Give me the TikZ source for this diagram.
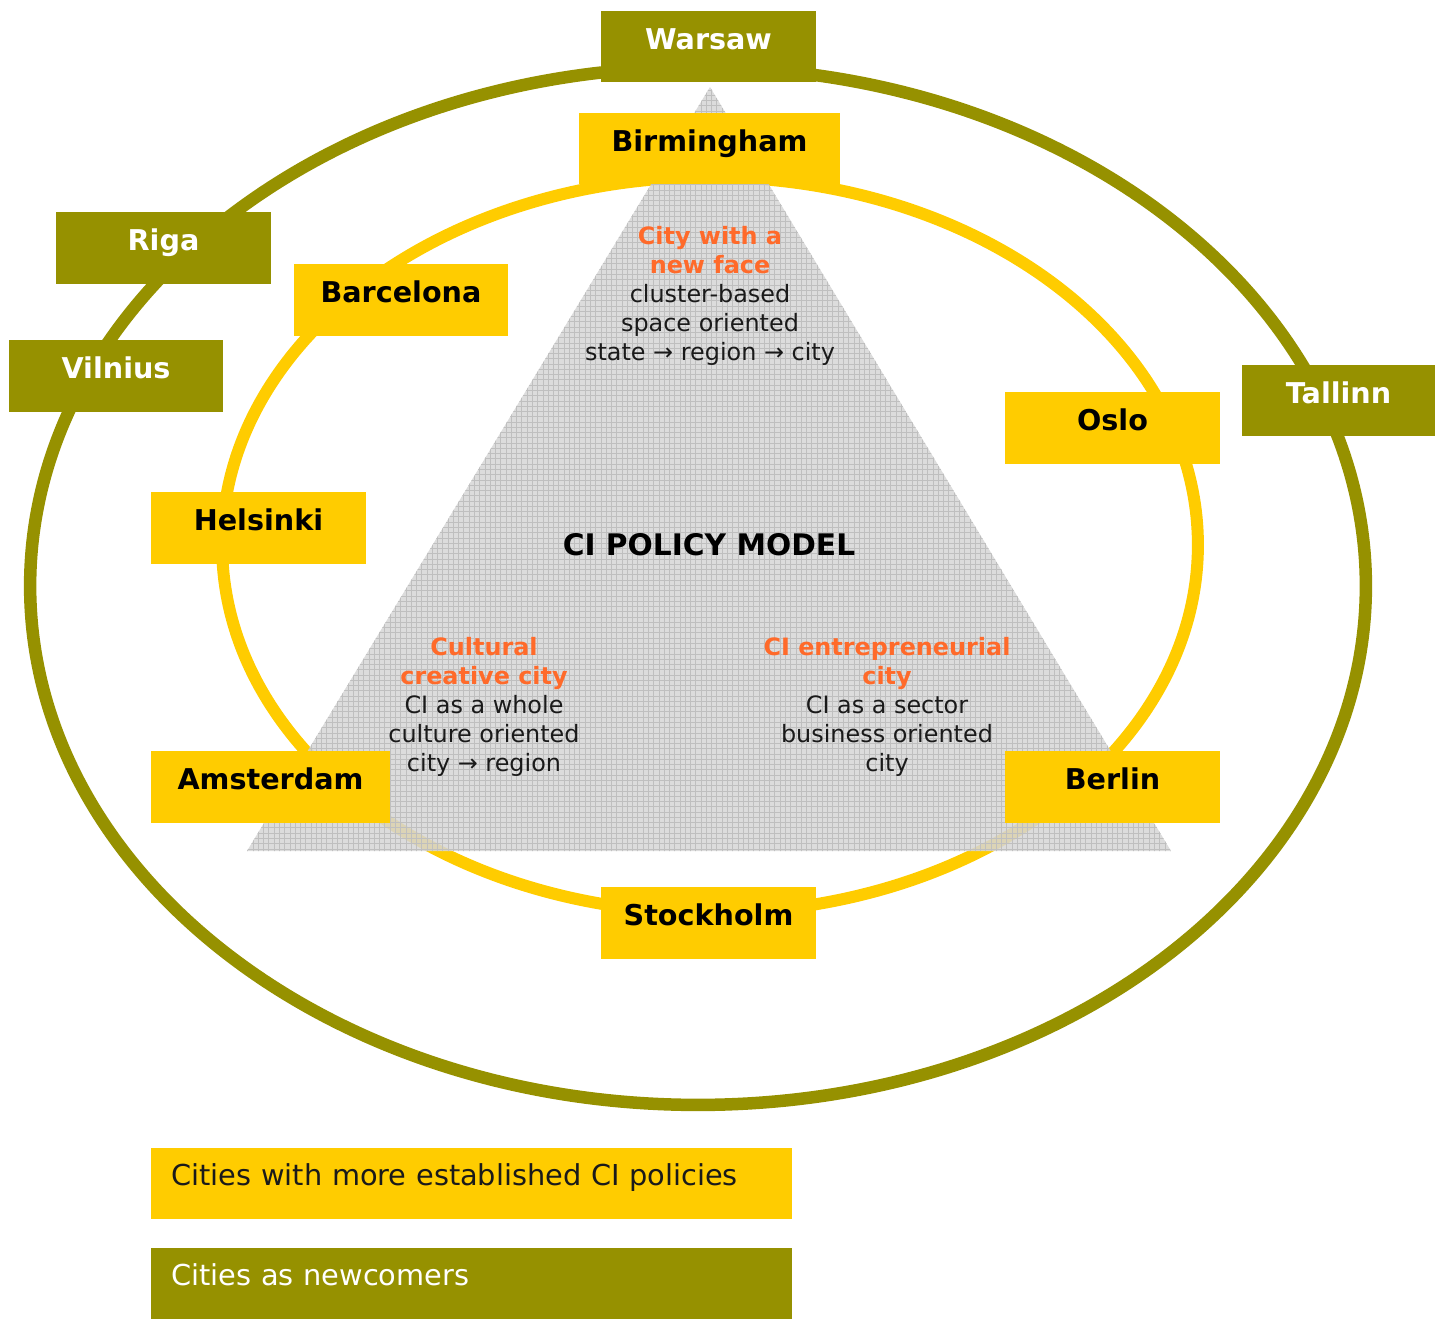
\documentclass[tikz,border=0pt]{standalone}
\usepackage{fontspec}
\setmainfont{DejaVu Sans}
\usetikzlibrary{patterns}
\definecolor{olivec}{HTML}{969100}
\definecolor{yellowc}{HTML}{FFCC00}
\definecolor{orangec}{HTML}{FF6A2A}
\definecolor{trigray}{HTML}{D6D6D6}
\definecolor{txtc}{HTML}{1A1A1A}
\tikzset{
  box/.style={rectangle, inner sep=0pt, minimum width=4.3cm, minimum height=1.44cm,
    font=\bfseries\fontsize{16.3pt}{19pt}\selectfont, text height=0.76em, text depth=0.45em},
  obox/.style={box, fill=olivec, text=white},
  ybox/.style={box, fill=yellowc, text=black},
  inner/.style={align=center, inner sep=0pt, text=txtc, font=\fontsize{13.6pt}{16.4pt}\selectfont},
  legend/.style={rectangle, inner sep=0pt, minimum width=12.82cm, minimum height=1.42cm,
    text width=12.0cm, align=left, font=\fontsize{16.4pt}{19pt}\selectfont, text height=0.76em, text depth=0.45em},
}
\newcommand{\hl}[1]{\textcolor{orangec}{\bfseries #1}}
\begin{document}
\begin{tikzpicture}[x=0.02cm,y=-0.02cm]
\useasboundingbox (0,0) rectangle (1435,1318);
% rings
\draw[olivec, line width=0.25cm] (698,586) ellipse [x radius=13.36cm, y radius=10.38cm];
\draw[yellowc, line width=0.24cm] (710,545) ellipse [x radius=9.76cm, y radius=7.36cm];
% triangle
\fill[trigray, fill opacity=0.85] (710,87) -- (1171,851) -- (247,851) -- cycle;
\fill[pattern=grid, pattern color=gray!50, fill opacity=0.22] (710,87) -- (1171,851) -- (247,851) -- cycle;
% city boxes
\node[obox] (warsaw) at (708.5,46.5) {Warsaw};
\node[ybox, minimum width=5.22cm] (birmingham) at (709.5,148.5) {Birmingham};
\node[obox] (riga) at (163.5,248) {Riga};
\node[ybox] (barcelona) at (401,300) {Barcelona};
\node[obox] (vilnius) at (116,376) {Vilnius};
\node[obox, minimum width=3.86cm] (tallinn) at (1338.5,400.5) {Tallinn};
\node[ybox] (oslo) at (1112.5,428) {Oslo};
\node[ybox] (helsinki) at (258.5,528) {Helsinki};
\node[ybox, minimum width=4.78cm] (amsterdam) at (270.5,787) {Amsterdam};
\node[ybox] (berlin) at (1112.5,787) {Berlin};
\node[ybox] (stockholm) at (708.5,923) {Stockholm};
% texts in triangle
\node[inner] (top) at (710,296) {\hl{City with a}\\\hl{new face}\\cluster-based\\space oriented\\state → region → city};
\node[inner, font=\bfseries\fontsize{16.9pt}{19pt}\selectfont, text=black] (model) at (709,545) {CI POLICY MODEL};
\node[inner] (left) at (484,707) {\hl{Cultural}\\\hl{creative city}\\CI as a whole\\culture oriented\\city → region};
\node[inner] (right) at (887,707) {\hl{CI entrepreneurial}\\\hl{city}\\CI as a sector\\business oriented\\city};
% legend
\node[legend, fill=yellowc, text=txtc] (leg1) at (471.5,1183) {Cities with more established CI policies};
\node[legend, fill=olivec, text=white] (leg2) at (471.5,1283) {Cities as newcomers};
\end{tikzpicture}
\end{document}
